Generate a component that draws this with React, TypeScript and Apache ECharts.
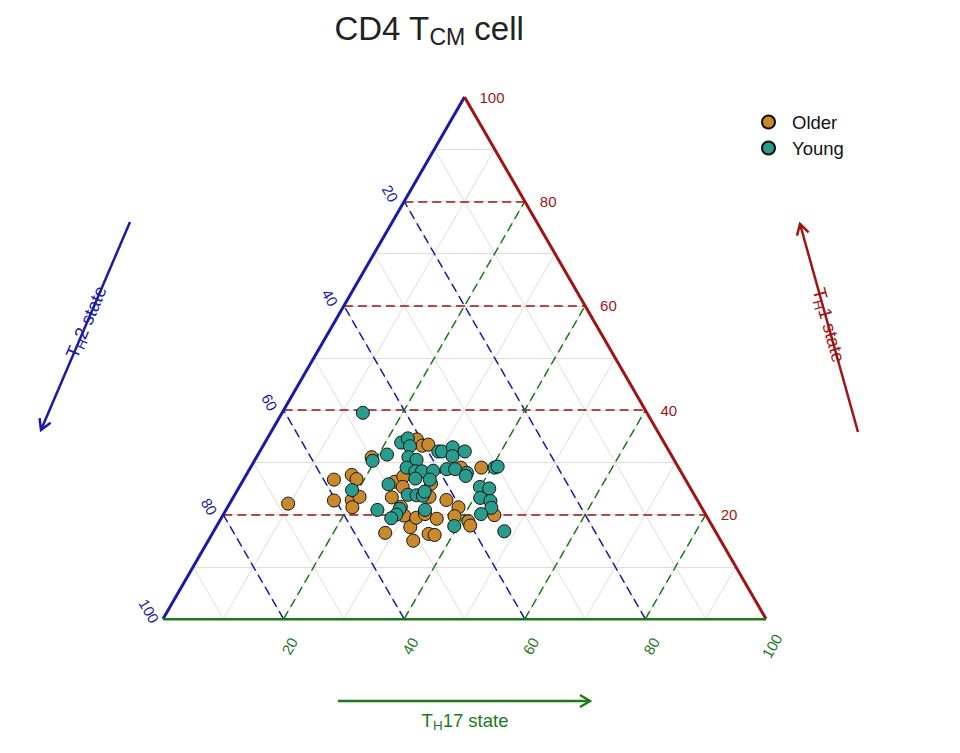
import React, { useEffect, useRef } from "react";
import * as echarts from "echarts";

// Ternary data (percent). TH2 = 100 - TH1 - TH17
const olderTH1 = [22.1, 26.7, 22.7, 27.6, 26.8, 22.8, 23.4, 21.4, 31.0, 16.5, 23.3, 26.3, 27.3, 25.3, 21.5, 19.8, 17.6, 15.0, 19.4, 34.4, 33.2, 33.4, 23.4, 20.1, 19.2, 16.3, 16.1, 22.8, 21.4, 19.7, 29.0, 18.7, 17.9, 29.0, 19.9, 25.9];
const olderTH17 = [9.7, 15.0, 17.0, 17.5, 18.7, 19.9, 20.9, 20.7, 19.1, 28.6, 26.3, 25.3, 26.2, 27.1, 28.7, 30.1, 32.2, 34.0, 32.3, 24.9, 26.4, 27.3, 32.5, 33.4, 35.8, 35.9, 37.0, 35.6, 38.3, 38.5, 34.9, 41.3, 42.0, 38.3, 45.0, 31.5];
const youngTH1 = [39.5, 30.3, 31.5, 33.8, 34.6, 33.1, 32.1, 32.1, 32.9, 31.2, 32.1, 31.0, 30.5, 29.0, 28.3, 28.3, 28.4, 28.7, 28.7, 28.0, 27.4, 29.0, 29.2, 24.7, 25.8, 26.9, 26.7, 23.8, 23.7, 23.6, 24.4, 20.9, 21.1, 20.0, 19.3, 20.9, 17.8, 25.3, 25.0, 23.2, 22.6, 21.3, 20.1, 16.8];
const youngTH17 = [13.4, 19.6, 21.4, 22.6, 23.3, 24.4, 29.6, 30.2, 31.6, 32.4, 34.0, 25.2, 26.8, 25.9, 27.7, 28.8, 30.6, 32.7, 34.1, 36.4, 36.5, 40.5, 40.9, 19.0, 24.5, 28.4, 30.9, 28.7, 30.2, 31.3, 31.2, 25.1, 28.7, 28.7, 28.2, 33.0, 39.4, 39.9, 41.6, 41.0, 43.0, 43.8, 42.7, 48.2];

const groups = ["Older", "Young"];
const minorTicks = [10, 20, 30, 40, 50, 60, 70, 80, 90];
const majorTicks = [20, 40, 60, 80];
const tickLabels = [20, 40, 60, 80, 100];

const S = Math.sqrt(3) / 2;
const FONT = "Liberation Sans, Arial, Helvetica, sans-serif";
const RED = "#a01414";
const BLUE = "#1a1aa6";
const GREEN = "#1a7a1a";
const ORANGE = "#c9892d";
const TEAL = "#2a9c8e";

const toXY = (th1: number, th17: number) => [th17 + th1 / 2, th1 * S];
const th1Line = (k: number) => [[k / 2, k * S], [100 - k / 2, k * S]];
const th2Line = (k: number) => [[100 - k, 0], [(100 - k) / 2, (100 - k) * S]];
const th17Line = (k: number) => [[k, 0], [k + (100 - k) / 2, (100 - k) * S]];

export default function App() {
  const ref = useRef<HTMLDivElement>(null);
  useEffect(() => {
    if (!ref.current) return;
    const chart = echarts.init(ref.current, null, { renderer: "svg" });
    const linesSeries = (data: any[], lineStyle: any, z: number) => ({
      type: "lines",
      coordinateSystem: "cartesian2d",
      silent: true,
      z,
      lineStyle: { opacity: 1, curveness: 0, ...lineStyle },
      data: data.map((c) => ({ coords: c })),
    });
    const grey = [
      ...minorTicks.map(th1Line),
      ...minorTicks.map(th2Line),
      ...minorTicks.map(th17Line),
    ];
    chart.setOption({
      animation: false,
      backgroundColor: "#ffffff",
      grid: { left: 163, top: 97, width: 603, height: 522 },
      xAxis: { type: "value", min: 0, max: 100, show: false },
      yAxis: { type: "value", min: 0, max: 100 * S, show: false },
      legend: {
        data: groups,
        orient: "vertical",
        left: 756,
        top: 107,
        itemWidth: 13,
        itemHeight: 13,
        itemGap: 6,
        icon: "circle",
        textStyle: { fontSize: 18.5, color: "#111", fontFamily: FONT, padding: [0, 0, 0, 12], lineHeight: 20 },
      },
      series: [
        linesSeries(grey, { color: "#dddddd", width: 1, type: "solid" }, 1),
        linesSeries(majorTicks.map(th1Line), { color: RED, width: 1.5, type: [9, 5] }, 2),
        linesSeries(majorTicks.map(th2Line), { color: BLUE, width: 1.5, type: [9, 5] }, 2),
        linesSeries(majorTicks.map(th17Line), { color: GREEN, width: 1.5, type: [9, 5] }, 2),
        linesSeries([[[0, 0], [50, 100 * S]]], { color: BLUE, width: 3, type: "solid" }, 3),
        linesSeries([[[100, 0], [50, 100 * S]]], { color: RED, width: 3, type: "solid" }, 3),
        linesSeries([[[0, 0], [100, 0]]], { color: GREEN, width: 3, type: "solid" }, 3),
        {
          name: "Older",
          type: "scatter",
          z: 5,
          symbolSize: 13,
          itemStyle: { color: ORANGE, borderColor: "#111", borderWidth: 1, opacity: 1 },
          data: olderTH1.map((a, i) => toXY(a, olderTH17[i])),
        },
        {
          name: "Young",
          type: "scatter",
          z: 6,
          symbolSize: 13,
          itemStyle: { color: TEAL, borderColor: "#111", borderWidth: 1, opacity: 1 },
          data: youngTH1.map((a, i) => toXY(a, youngTH17[i])),
        },
      ],
    });

    const px = (p: number[]) => chart.convertToPixel({ gridIndex: 0 }, p) as number[];
    const graphic: any[] = [];
    // Tick labels
    tickLabels.forEach((k) => {
      const r = px([100 - k / 2, k * S]);
      graphic.push({
        type: "text", x: r[0] + 15, y: r[1], silent: true,
        style: { text: String(k), fill: RED, fontSize: 15, fontFamily: FONT, align: "left", verticalAlign: "middle" },
      });
      const b = px([(100 - k) / 2, (100 - k) * S]);
      graphic.push({
        type: "text", x: b[0] - 14, y: b[1] - 8, rotation: -Math.PI / 3, silent: true,
        style: { text: String(k), fill: BLUE, fontSize: 15, fontFamily: FONT, align: "center", verticalAlign: "middle" },
      });
      const g = px([k, 0]);
      graphic.push({
        type: "text", x: g[0] + 6, y: g[1] + 27, rotation: Math.PI / 3, silent: true,
        style: { text: String(k), fill: GREEN, fontSize: 15, fontFamily: FONT, align: "center", verticalAlign: "middle" },
      });
    });
    const axisRich = (color: string) => ({
      n: { fontSize: 18.5, fill: color, fontFamily: FONT, lineHeight: 24 },
      s: { fontSize: 13.5, fill: color, fontFamily: FONT, lineHeight: 13, verticalAlign: "bottom" },
    });
    // Title
    graphic.push({
      type: "text", x: 429, y: 28, silent: true,
      style: {
        text: "{a|CD4 T}{b|CM}{a| cell}",
        align: "center", verticalAlign: "middle",
        rich: {
          a: { fontSize: 33, fill: "#222", fontFamily: FONT, lineHeight: 40 },
          b: { fontSize: 23, fill: "#222", fontFamily: FONT, lineHeight: 22, verticalAlign: "bottom" },
        },
      },
    });
    // TH2 arrow + title
    graphic.push({ type: "polyline", silent: true, shape: { points: [[130, 222], [41, 430]] }, style: { stroke: BLUE, lineWidth: 2.5, fill: null } });
    graphic.push({ type: "polyline", silent: true, shape: { points: [[50.6, 422.8], [41, 430], [39.6, 418.1]] }, style: { stroke: BLUE, lineWidth: 2.5, fill: null } });
    graphic.push({
      type: "text", x: 86, y: 322, rotation: (66.8 * Math.PI) / 180, silent: true,
      style: { text: "{n|T}{s|H}{n|2 state}", align: "center", verticalAlign: "middle", rich: axisRich(BLUE) },
    });
    // TH1 arrow + title
    graphic.push({ type: "polyline", silent: true, shape: { points: [[858, 432], [800, 224]] }, style: { stroke: RED, lineWidth: 2.5, fill: null } });
    graphic.push({ type: "polyline", silent: true, shape: { points: [[797, 235.6], [800, 224], [808.6, 232.4]] }, style: { stroke: RED, lineWidth: 2.5, fill: null } });
    graphic.push({
      type: "text", x: 829, y: 325, rotation: (-74.4 * Math.PI) / 180, silent: true,
      style: { text: "{n|T}{s|H}{n|1 state}", align: "center", verticalAlign: "middle", rich: axisRich(RED) },
    });
    // TH17 arrow + title
    graphic.push({ type: "polyline", silent: true, shape: { points: [[338, 701], [590, 701]] }, style: { stroke: GREEN, lineWidth: 2.5, fill: null } });
    graphic.push({ type: "polyline", silent: true, shape: { points: [[580, 695], [590, 701], [580, 707]] }, style: { stroke: GREEN, lineWidth: 2.5, fill: null } });
    graphic.push({
      type: "text", x: 465, y: 720, silent: true,
      style: { text: "{n|T}{s|H}{n|17 state}", align: "center", verticalAlign: "middle", rich: axisRich(GREEN) },
    });
    chart.setOption({ graphic });
    return () => chart.dispose();
  }, []);
  return (
    <div
      ref={ref}
      style={{ position: "fixed", left: 0, top: 0, width: 960, height: 753, background: "#fff" }}
    />
  );
}
